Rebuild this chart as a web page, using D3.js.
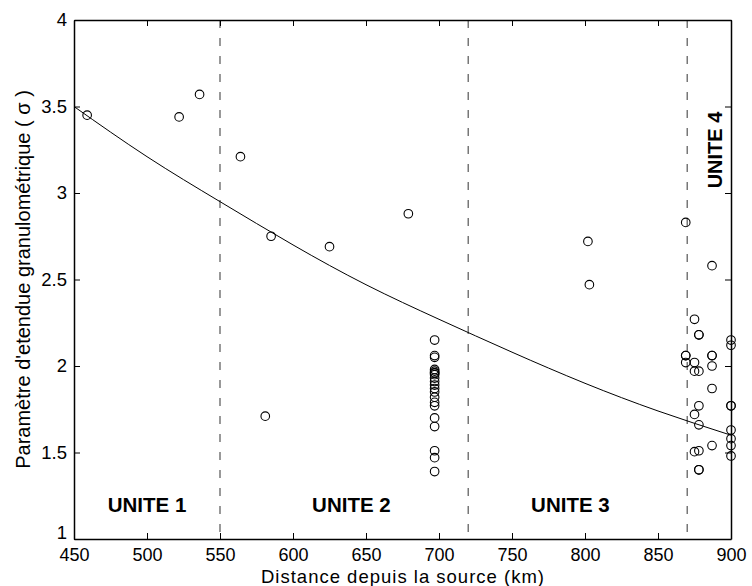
<!DOCTYPE html>
<html><head><meta charset="utf-8">
<script src="https://cdn.jsdelivr.net/npm/d3@7"></script>
<style>body{margin:0;background:#fff}svg{display:block}text{font-family:"Liberation Sans",Arial,sans-serif}</style>
</head><body>
<script>
const xTicks = [450,500,550,600,650,700,750,800,850,900];
const yTicks = [1,1.5,2,2.5,3,3.5,4];
const yTickLabels = ["1","1.5","2","2.5","3","3.5","4"];
const pointDist = [459,522,536,564,581,585,625,679,802,803,
  697,697,697,697,697,697,697,697,697,697,697,697,697,697,697,697,697,697,697,697,697,
  869,869,869,869,875,875,875,875,875,878,878,878,878,878,878,878,878,887,887,887,887,887,887,
  900,900,900,900,900,900,900,900];
const pointSigma = [3.45,3.44,3.57,3.21,1.71,2.75,2.69,2.88,2.72,2.47,
  2.15,2.06,2.05,1.98,1.97,1.96,1.95,1.93,1.91,1.89,1.87,1.85,1.82,1.79,1.77,1.70,1.65,1.51,1.47,1.39,1.96,
  2.83,2.06,2.06,2.02,2.27,2.02,1.97,1.72,1.505,2.18,2.18,1.77,1.66,1.51,1.40,1.40,1.97,2.58,2.06,2.00,1.87,1.54,2.06,
  2.15,2.12,1.77,1.77,1.63,1.58,1.54,1.48];
const fitDist = [450,500,550,600,650,700,750,800,850,900];
const fitSigma = [3.50,3.21,2.95,2.70,2.47,2.27,2.08,1.90,1.74,1.60];
const boundaries = [550,720,870];
const unitNames = ["UNITE 1","UNITE 2","UNITE 3","UNITE 4"];
const unitPos = [500,640,790,890];

const W=752,H=586;
const m={l:74,r:21,t:20,b:47};
const svg=d3.select("body").append("svg").attr("width",W).attr("height",H);
const x=d3.scaleLinear().domain([450,900]).range([m.l,W-m.r]);
const y=d3.scaleLinear().domain([1,4]).range([H-m.b,m.t]);
const g=svg.append("g");

// boundaries
g.selectAll("line.b").data(boundaries).join("line")
  .attr("x1",d=>x(d)).attr("x2",d=>x(d)).attr("y1",y(4)).attr("y2",y(1))
  .attr("stroke","#555").attr("stroke-width",1.2).attr("stroke-dasharray","8,10");

// fit curve
g.append("path").datum(fitDist.map((d,i)=>[d,fitSigma[i]]))
  .attr("d",d3.line().x(d=>x(d[0])).y(d=>y(d[1])).curve(d3.curveNatural))
  .attr("fill","none").attr("stroke","#000").attr("stroke-width",1);

// points
g.selectAll("circle").data(pointDist.map((d,i)=>[d,pointSigma[i]])).join("circle")
  .attr("cx",d=>x(d[0])).attr("cy",d=>y(d[1])).attr("r",4.3)
  .attr("fill","none").attr("stroke","#000").attr("stroke-width",1.1);

// axes (ticks inward)
const fs=18.5;
const ax=(gen,tr)=>svg.append("g").attr("transform",tr).call(gen);
const axB=ax(d3.axisBottom(x).tickValues(xTicks).tickSizeInner(-6).tickSizeOuter(0).tickPadding(9),`translate(0,${y(1)})`);
const axT=ax(d3.axisTop(x).tickValues(xTicks).tickSizeInner(-6).tickSizeOuter(0).tickFormat(""),`translate(0,${y(4)})`);
const axL=ax(d3.axisLeft(y).tickValues(yTicks).tickFormat((d,i)=>yTickLabels[i]).tickSizeInner(-6).tickSizeOuter(0).tickPadding(7),`translate(${x(450)},0)`);
const axR=ax(d3.axisRight(y).tickValues(yTicks).tickSizeInner(-6).tickSizeOuter(0).tickFormat(""),`translate(${x(900)},0)`);
[axB,axT,axL,axR].forEach(a=>{
  a.selectAll("path").attr("stroke","#000").attr("stroke-width",1.5);
  a.selectAll("line").attr("stroke","#000");
  a.selectAll("text").attr("font-size",fs).attr("fill","#000").attr("font-family","Liberation Sans, Arial, sans-serif");
});
axB.selectAll("text").attr("font-size",18).attr("dy","0.72em");
axL.selectAll("text").filter(d=>d===1).attr("dy","-0.05em");

// unit labels
unitNames.forEach((n,i)=>{
  if(i<3){
    g.append("text").attr("x",x(unitPos[i])).attr("y",512)
     .attr("text-anchor","middle").attr("font-weight","bold").attr("font-size",20.5).text(n);
  } else {
    g.append("text").attr("transform",`translate(722,150) rotate(-90)`)
     .attr("text-anchor","middle").attr("font-weight","bold").attr("font-size",20).text(n);
  }
});

// axis titles
svg.append("text").attr("x",(x(450)+x(900))/2).attr("y",583).attr("text-anchor","middle")
  .attr("font-size",18.5).attr("textLength",283).attr("lengthAdjust","spacing").text("Distance depuis la source (km)");
svg.append("text").attr("transform",`translate(30,${(y(1)+y(4))/2}) rotate(-90)`).attr("text-anchor","middle")
  .attr("font-size",20).text("Paramètre d'etendue granulométrique ( σ )");
</script>
</body></html>
